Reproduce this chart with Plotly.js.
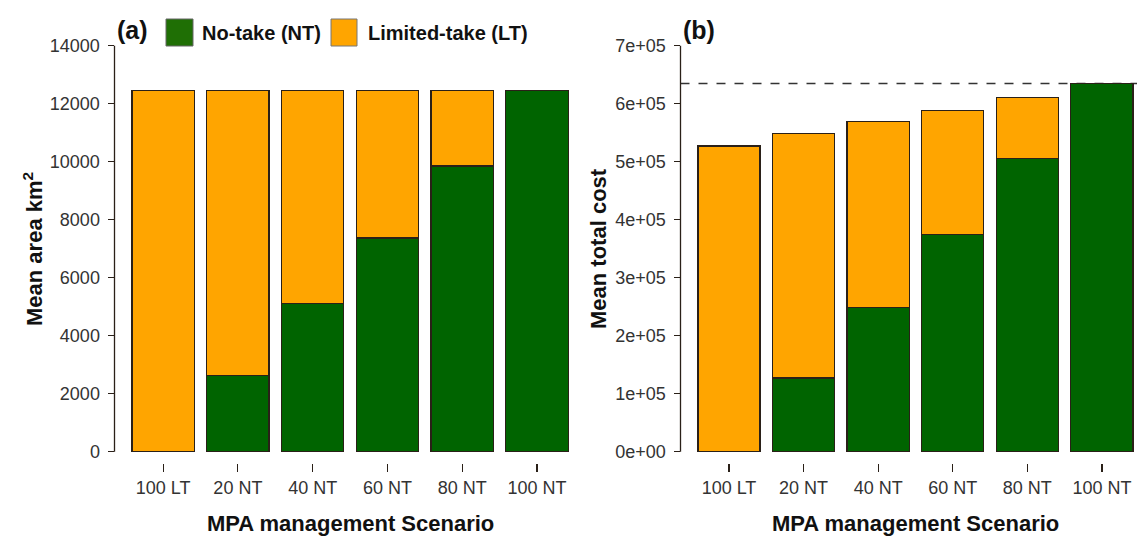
<!DOCTYPE html>
<html>
<head>
<meta charset="utf-8">
<script src="https://cdn.plot.ly/plotly-3.0.1.min.js"></script>
<style>html,body{margin:0;padding:0;background:#fff;}#chart{width:1137px;height:538px;}</style>
</head>
<body>
<div id="chart"></div>
<script>
// ---- data ----
const scenarios = ['100 LT', '20 NT', '40 NT', '60 NT', '80 NT', '100 NT'];
const areaTotal = [12450, 12450, 12450, 12450, 12450, 12450];
const areaNT = [0, 2630, 5100, 7370, 9850, 12450];
const costTotal = [527000, 549000, 570000, 588000, 611000, 635000];
const costNT = [0, 127000, 249000, 375000, 506000, 635000];
const costReference = 635000;
const areaTickVals = [0, 2000, 4000, 6000, 8000, 10000, 12000, 14000];
const areaTickText = ['0', '2000', '4000', '6000', '8000', '10000', '12000', '14000'];
const costTickVals = [0, 100000, 200000, 300000, 400000, 500000, 600000, 700000];
const costTickText = ['0e+00', '1e+05', '2e+05', '3e+05', '4e+05', '5e+05', '6e+05', '7e+05'];
const seriesNames = ['No-take (NT)', 'Limited-take (LT)'];

// ---- styling ----
const W = 1137, H = 538;
const px = v => v / W;
const py = v => 1 - v / H;
const GREEN = '#006400', ORANGE = '#FFA500', EDGE = '#2a2018';
const FONT = 'Liberation Sans, Arial, sans-serif';

const nz = v => (v === 0 ? null : v);
const areaLT = areaTotal.map((t, i) => t - areaNT[i]);
const costLT = costTotal.map((t, i) => t - costNT[i]);

function bar(y, color, xa, ya, name) {
  return {type: 'bar', x: scenarios, y: y.map(nz), xaxis: xa, yaxis: ya, name: name,
    marker: {color: color, line: {color: EDGE, width: 1.2}}, showlegend: false,
    hoverinfo: 'x+y'};
}
const data = [
  bar(areaNT, GREEN, 'x', 'y', seriesNames[0]),
  bar(areaLT, ORANGE, 'x', 'y', seriesNames[1]),
  bar(costNT, GREEN, 'x2', 'y2', seriesNames[0]),
  bar(costLT, ORANGE, 'x2', 'y2', seriesNames[1])
];

const yTop = 29.5, yBot = 463;
const xAxisCommon = {type: 'category', showgrid: false, zeroline: false, showline: false,
  ticks: 'outside', ticklen: 8, tickwidth: 1.2, tickcolor: EDGE,
  tickfont: {family: FONT, size: 18, color: '#333'}, fixedrange: true};
const yAxisCommon = {showgrid: false, zeroline: false, showline: false,
  ticks: 'outside', ticklen: 6, tickwidth: 1.2, tickcolor: EDGE, ticklabelstandoff: 4,
  tickfont: {family: FONT, size: 18, color: '#333'}, fixedrange: true};

const layout = {
  width: W, height: H, margin: {l: 0, r: 0, t: 0, b: 0},
  paper_bgcolor: '#fff', plot_bgcolor: 'rgba(0,0,0,0)',
  barmode: 'stack', bargap: 0.1667, showlegend: false,
  xaxis: Object.assign({}, xAxisCommon, {domain: [px(114.5), px(585.6)], range: [-0.65, 5.65], anchor: 'y'}),
  yaxis: Object.assign({}, yAxisCommon, {domain: [py(yBot), py(yTop)], range: [-390, 14560],
    tickvals: areaTickVals, ticktext: areaTickText, anchor: 'x'}),
  xaxis2: Object.assign({}, xAxisCommon, {domain: [px(680.5), 1], range: [-0.65, 5.47], anchor: 'y2'}),
  yaxis2: Object.assign({}, yAxisCommon, {domain: [py(yBot), py(yTop)], range: [-19500, 728000],
    tickvals: costTickVals, ticktext: costTickText, anchor: 'x2'}),
  shapes: [
    {type: 'line', xref: 'x domain', yref: 'y', x0: 0, x1: 0, y0: areaTickVals[0], y1: areaTickVals[areaTickVals.length - 1],
      line: {color: EDGE, width: 1.3}},
    {type: 'line', xref: 'x2 domain', yref: 'y2', x0: 0, x1: 0, y0: costTickVals[0], y1: costTickVals[costTickVals.length - 1],
      line: {color: EDGE, width: 1.3}},
    {type: 'line', xref: 'x2 domain', yref: 'y2', x0: 0, x1: 1, y0: costReference, y1: costReference,
      line: {color: '#333', width: 1.6, dash: 'dash'}, layer: 'below'},
    // legend swatches
    {type: 'rect', xref: 'paper', yref: 'paper', x0: px(166), x1: px(193), y0: py(46), y1: py(19),
      fillcolor: '#1f6f05', line: {color: '#666', width: 1}},
    {type: 'rect', xref: 'paper', yref: 'paper', x0: px(331), x1: px(357), y0: py(46), y1: py(19),
      fillcolor: ORANGE, line: {color: '#777', width: 1}}
  ],
  annotations: [
    {text: '<b>(a)</b>', xref: 'paper', yref: 'paper', x: px(115), y: py(30), xanchor: 'left', yanchor: 'middle',
      showarrow: false, font: {family: FONT, size: 25, color: '#111'}},
    {text: '<b>(b)</b>', xref: 'paper', yref: 'paper', x: px(681), y: py(30), xanchor: 'left', yanchor: 'middle',
      showarrow: false, font: {family: FONT, size: 25, color: '#111'}},
    {text: '<b>' + seriesNames[0] + '</b>', xref: 'paper', yref: 'paper', x: px(200), y: py(33), xanchor: 'left', yanchor: 'middle',
      showarrow: false, font: {family: FONT, size: 20, color: '#111'}},
    {text: '<b>' + seriesNames[1] + '</b>', xref: 'paper', yref: 'paper', x: px(366), y: py(33), xanchor: 'left', yanchor: 'middle',
      showarrow: false, font: {family: FONT, size: 20, color: '#111'}},
    {text: '<b>MPA management Scenario</b>', xref: 'paper', yref: 'paper', x: px(350), y: py(523), xanchor: 'center', yanchor: 'middle',
      showarrow: false, font: {family: FONT, size: 22, color: '#111'}},
    {text: '<b>MPA management Scenario</b>', xref: 'paper', yref: 'paper', x: px(915), y: py(523), xanchor: 'center', yanchor: 'middle',
      showarrow: false, font: {family: FONT, size: 22, color: '#111'}},
    {text: '<b>Mean area km<sup>2</sup></b>', xref: 'paper', yref: 'paper', x: px(33), y: py(249), xanchor: 'center', yanchor: 'middle',
      textangle: -90, showarrow: false, font: {family: FONT, size: 22, color: '#111'}},
    {text: '<b>Mean total cost</b>', xref: 'paper', yref: 'paper', x: px(598), y: py(249), xanchor: 'center', yanchor: 'middle',
      textangle: -90, showarrow: false, font: {family: FONT, size: 22, color: '#111'}}
  ]
};

Plotly.newPlot('chart', data, layout, {displayModeBar: false, staticPlot: true});
</script>
</body>
</html>
